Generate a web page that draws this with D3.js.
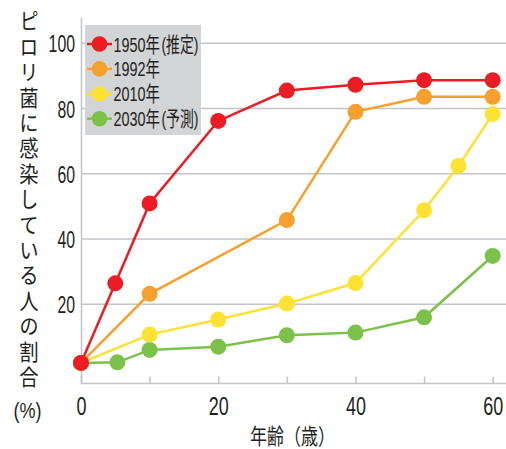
<!DOCTYPE html>
<html><head><meta charset="utf-8">
<script src="https://cdn.jsdelivr.net/npm/d3@7"></script>
<style>
body{margin:0;background:#fff;}
svg{display:block;}
text{font-family:"Liberation Sans","Noto Sans CJK JP",sans-serif;fill:#231f20;}
</style></head><body>
<svg id="c" width="506" height="449"></svg>
<script>
// ---- data ----
const seriesNames = ["1950年(推定)", "1992年", "2010年", "2030年(予測)"];
const seriesColors = ["#ec1c24", "#f6a030", "#fde234", "#7cc24a"];
const ages1950 = [0, 5, 10, 20, 30, 40, 50, 60];
const vals1950 = [2, 26.4, 50.9, 76.2, 85.5, 87.3, 88.7, 88.7];
const ages1992 = [0, 10, 30, 40, 50, 60];
const vals1992 = [2, 23.2, 45.8, 79, 83.6, 83.6];
const ages2010 = [0, 10, 20, 30, 40, 50, 55, 60];
const vals2010 = [2, 10.7, 15.3, 20.2, 26.5, 48.8, 62.4, 78.3];
const ages2030 = [0, 5.3, 10, 20, 30, 40, 50, 60];
const vals2030 = [2, 2.2, 6, 7, 10.5, 11.3, 16, 34.8];
const xTicks = [0, 10, 20, 30, 40, 50, 60];
const xTickLabels = ["0", "", "20", "", "40", "", "60"];
const yTicks = [20, 40, 60, 80, 100];
const yTitle = "ピロリ菌に感染している人の割合";
const yUnit = "(%)";
const xTitle = "年齢（歳）";

const series = [
  {name: seriesNames[0], color: seriesColors[0], pts: ages1950.map((a,i)=>[a, vals1950[i]])},
  {name: seriesNames[1], color: seriesColors[1], pts: ages1992.map((a,i)=>[a, vals1992[i]])},
  {name: seriesNames[2], color: seriesColors[2], pts: ages2010.map((a,i)=>[a, vals2010[i]])},
  {name: seriesNames[3], color: seriesColors[3], pts: ages2030.map((a,i)=>[a, vals2030[i]])}
];

// condense a text horizontally to a target width, anchored at its own x/y
function fit(sel, widthFn) {
  sel.each(function(d, i) {
    const t = d3.select(this);
    const target = widthFn(d, i);
    const w = this.getComputedTextLength();
    if (!w || !target) return;
    const ax = +t.attr("x") || 0, ay = +t.attr("y") || 0;
    t.attr("x", 0).attr("y", 0)
     .attr("transform", `translate(${ax},${ay}) scale(${target / w},1)`);
  });
}

const svg = d3.select("#c");
const x = d3.scaleLinear().domain([0, 60]).range([81, 492.7]);
const y = d3.scaleLinear().domain([-4.3, 108]).range([383.5, 17.2]);
const grey = "#c3c5c8";

// gridlines
svg.append("g").selectAll("line").data(yTicks).join("line")
  .attr("x1", x(0)).attr("x2", x(62)).attr("y1", d=>y(d)).attr("y2", d=>y(d))
  .attr("stroke", grey).attr("stroke-width", 1.6);

// y axis
const yAxis = svg.append("g").attr("transform", `translate(${x(0)},0)`)
  .call(d3.axisLeft(y).tickValues(yTicks).tickSize(0).tickSizeOuter(0).tickPadding(6));
yAxis.select(".domain").attr("stroke", grey).attr("stroke-width", 1.6);
yAxis.selectAll("text").attr("font-size", 24).attr("dy", "0.36em")
  .attr("x", -6).style("font-family", "Liberation Sans").attr("fill", "#231f20")
  .call(fit, d => String(d).length * 8.8);

// x axis
const xAxis = svg.append("g").attr("transform", `translate(0,${y(-4.3)})`)
  .call(d3.axisBottom(x).tickValues(xTicks).tickSize(-7).tickSizeOuter(0)
        .tickFormat((d,i)=>xTickLabels[i]));
xAxis.select(".domain").remove();
xAxis.append("line").attr("x1", x(0)).attr("x2", x(62)).attr("stroke", grey).attr("stroke-width", 1.6);
xAxis.selectAll(".tick line").attr("stroke", grey).attr("stroke-width", 1.6);
xAxis.selectAll("text").attr("font-size", 25).attr("y", 31).attr("dy", 0)
  .style("font-family", "Liberation Sans").attr("fill", "#231f20")
  .call(fit, (d,i) => xTickLabels[i].length * 10);

// series (draw last series first so 1950 on top)
const line = d3.line().x(d=>x(d[0])).y(d=>y(d[1]));
const sg = svg.append("g").selectAll("g").data(series.slice().reverse()).join("g");
sg.append("path").attr("d", d=>line(d.pts)).attr("fill","none")
  .attr("stroke", d=>d.color).attr("stroke-width", 2.5);
sg.selectAll("circle").data(d=>d.pts.map(p=>({p, c:d.color}))).join("circle")
  .attr("cx", d=>x(d.p[0])).attr("cy", d=>y(d.p[1])).attr("r", 8).attr("fill", d=>d.c);

// legend
const lg = svg.append("g");
lg.append("rect").attr("x", 85).attr("y", 25).attr("width", 116).attr("height", 110).attr("fill", "#d3d4d6");
const li = lg.selectAll("g.item").data(series).join("g").attr("class","item")
  .attr("transform", (d,i)=>`translate(0,${44 + i*24.9})`);
li.append("line").attr("x1", 87).attr("x2", 112).attr("stroke", d=>d.color).attr("stroke-width", 2.5);
li.append("circle").attr("cx", 99.5).attr("r", 7.8).attr("fill", d=>d.color);
li.append("text").attr("x", 113.5).attr("dy", "0.36em").attr("font-size", 21)
  .text(d=>d.name.split("(")[0])
  .call(fit, () => 46.5);
li.filter(d=>d.name.includes("(")).append("text").attr("x", 161.5).attr("dy", "0.36em").attr("font-size", 21)
  .text(d=>"(" + d.name.split("(")[1])
  .call(fit, () => 37);

// y title (vertical)
svg.append("text")
  .attr("transform", "translate(29,10) scale(0.88,1)")
  .attr("writing-mode", "vertical-rl").style("writing-mode", "vertical-rl")
  .attr("font-size", 22).attr("letter-spacing", 3.4)
  .style("font-family", "Noto Sans CJK JP").text(yTitle);
svg.append("text").attr("x", 27.5).attr("y", 418).attr("text-anchor","middle")
  .attr("font-size", 22).style("font-family", "Liberation Sans").text(yUnit)
  .call(fit, () => 28);

// x title
svg.append("text").attr("x", 292.5).attr("y", 443.5).attr("text-anchor","middle")
  .attr("font-size", 22).style("font-family", "Noto Sans CJK JP").text(xTitle)
  .call(fit, () => 85);
</script>
</body></html>
